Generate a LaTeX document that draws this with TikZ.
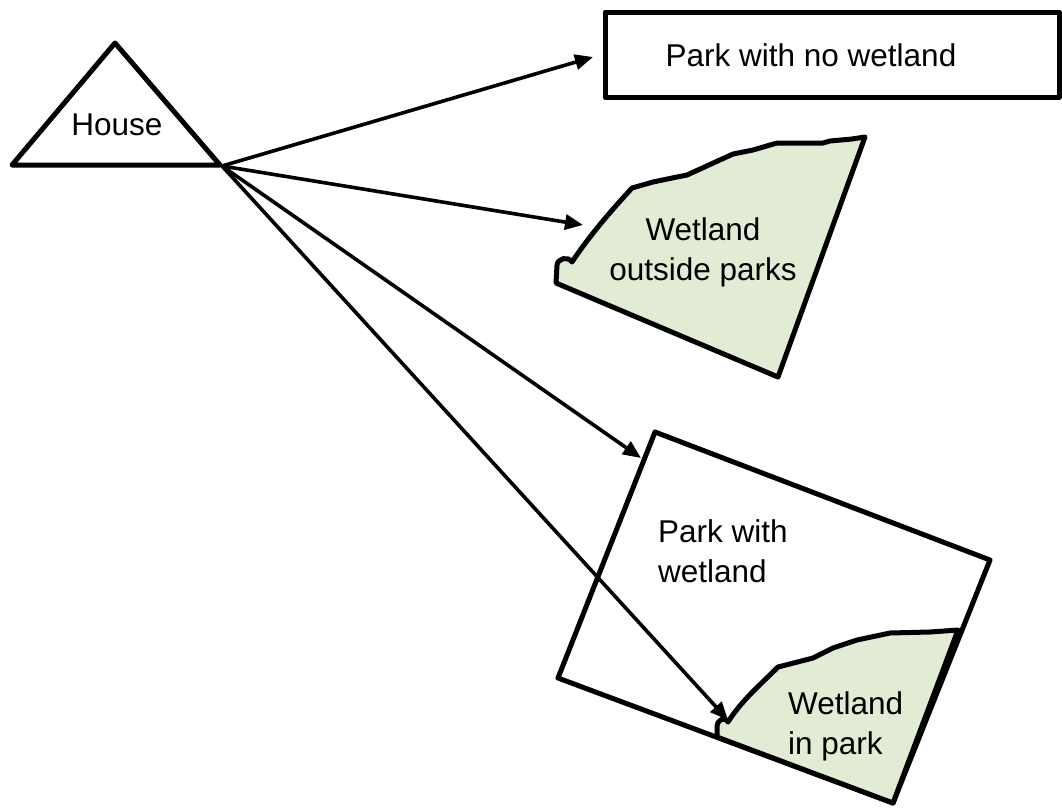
\documentclass[tikz,border=0pt]{standalone}
\usepackage{fontspec}
\setmainfont{Liberation Sans}
\usetikzlibrary{arrows.meta}
\definecolor{wet}{HTML}{E2EBD3}
\begin{document}
\begin{tikzpicture}[x=1pt,y=-1pt,
  outline/.style={line width=5pt, line join=round},
  wetshape/.style={outline, fill=wet},
  arr/.style={line width=3.6pt, -{Triangle[length=18pt,width=15pt]}},
  lbl/.style={font=\fontsize{31.5}{40}\selectfont, inner sep=0pt, align=center},
  lbll/.style={lbl, align=left, anchor=west}]
\useasboundingbox (0,0) rectangle (1062,811);
\fill[white] (0,0) rectangle (1062,811);

% House
\draw[outline] (115,43) -- (220,165) -- (12,165) -- cycle;
\coordinate (src) at (222,166);
\node[lbl] (house) at (117,125) {House};

% Park with no wetland
\draw[outline] (605,12) rectangle (1059,97);
\node[lbl] (pnw) at (811,55) {Park with no wetland};
\coordinate (t1) at (593,57);

% Wetland outside parks
\draw[wetshape] (865,137) -- (852,139) -- (830,141) -- (823,143) -- (777,143)
  -- (753,150) -- (733,154) -- (687,175) -- (677,177) -- (653,182) -- (632,188)
  .. controls (610,212) and (590,235) .. (572,262)
  .. controls (568,256) and (558,258) .. (557,265) -- (556,283)
  -- (778,377) -- cycle;
\node[lbl] (wop) at (703,252) {Wetland\\outside parks};
\coordinate (t2) at (583,225);

% Park with wetland
\draw[outline] (655,432) -- (990,560) -- (893,803) -- (558,678) -- cycle;
\node[lbll] (pww) at (658,551) {Park with\\wetland};
\coordinate (t3) at (641,458);

% Wetland in park
\draw[wetshape] (958,630) -- (930,632) -- (890,633) -- (857,640) -- (833,648)
  -- (813,658) -- (778,667)
  .. controls (760,685) and (742,700) .. (728,722)
  .. controls (724,716) and (717,720) .. (717,727) -- (717,737)
  -- (893,803) -- cycle;
\node[lbll] (wip) at (788,726) {Wetland\\in park};
\coordinate (t4) at (728,720);

% connectors
\draw[arr] (src) -- (t1);
\draw[arr] (src) -- (t2);
\draw[arr] (src) -- (t3);
\draw[arr] (src) -- (t4);
\end{tikzpicture}
\end{document}
